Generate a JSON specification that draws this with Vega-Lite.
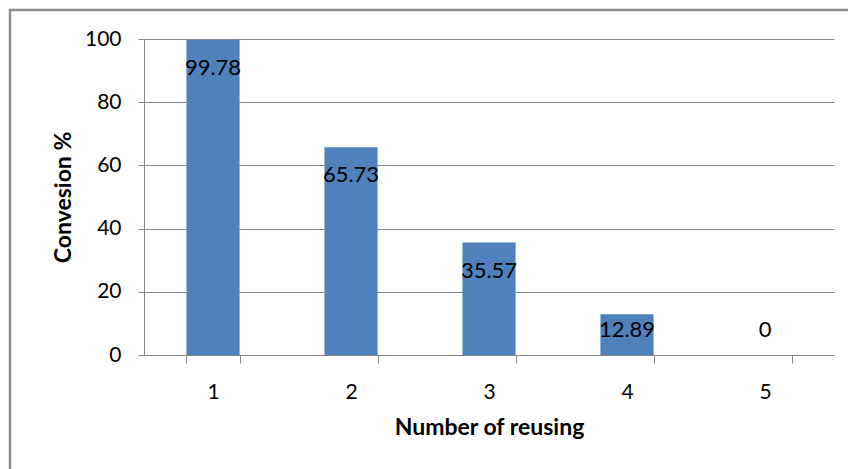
{
  "$schema": "https://vega.github.io/schema/vega-lite/v6.json",
  "width": 838,
  "height": 459,
  "padding": {"left": 10, "top": 10, "right": 0, "bottom": 0},
  "autosize": {"type": "none"},
  "background": "white",
  "config": {
    "font": "Lato",
    "view": {"stroke": "#8c8c8c", "strokeWidth": 2.5, "strokeDash": [838, 1297, 459], "fill": "white"}
  },
  "data": {
    "values": [
      {"reuse": "1", "conversion": 99.78},
      {"reuse": "2", "conversion": 65.73},
      {"reuse": "3", "conversion": 35.57},
      {"reuse": "4", "conversion": 12.89},
      {"reuse": "5", "conversion": 0}
    ]
  },
  "layer": [
    {
      "mark": {"type": "bar", "color": "#4F81BD"},
      "encoding": {
        "x": {
          "field": "reuse",
          "type": "ordinal",
          "sort": null,
          "scale": {"range": [134, 824], "paddingInner": 0.615, "paddingOuter": 0.3075},
          "axis": {
            "orient": "bottom",
            "offset": -114,
            "labelAngle": 0,
            "tickBand": "extent",
            "tickSize": 8,
            "tickColor": "#868686",
            "domainColor": "#868686",
            "labelFontSize": 21,
            "labelColor": "#000000",
            "labelPadding": 18,
            "grid": false,
            "title": "Number of reusing",
            "titleFontSize": 23,
            "titleFontWeight": "bold",
            "titleColor": "#000000",
            "titlePadding": 14
          }
        },
        "y": {
          "field": "conversion",
          "type": "quantitative",
          "scale": {"domain": [0, 100], "range": [345, 29], "nice": false},
          "axis": {
            "orient": "left",
            "offset": -134,
            "values": [0, 20, 40, 60, 80, 100],
            "tickSize": 6,
            "tickColor": "#868686",
            "domainColor": "#868686",
            "grid": true,
            "gridColor": "#868686",
            "gridOpacity": 1,
            "labelFontSize": 21,
            "labelColor": "#000000",
            "labelPadding": 17,
            "title": "Convesion %",
            "titleFontSize": 23,
            "titleFontWeight": "bold",
            "titleColor": "#000000",
            "titlePadding": 9
          }
        }
      }
    },
    {
      "mark": {"type": "text", "fontSize": 22, "color": "#000000", "baseline": "middle", "dy": 28},
      "encoding": {
        "x": {"field": "reuse", "type": "ordinal", "sort": null},
        "y": {
          "field": "conversion",
          "type": "quantitative",
          "scale": {"domain": [16.8, 100], "range": [291.9, 29], "clamp": true, "nice": false, "zero": false},
          "axis": null
        },
        "text": {"field": "conversion", "type": "quantitative", "format": ""}
      }
    }
  ],
  "resolve": {"scale": {"y": "independent"}}
}
